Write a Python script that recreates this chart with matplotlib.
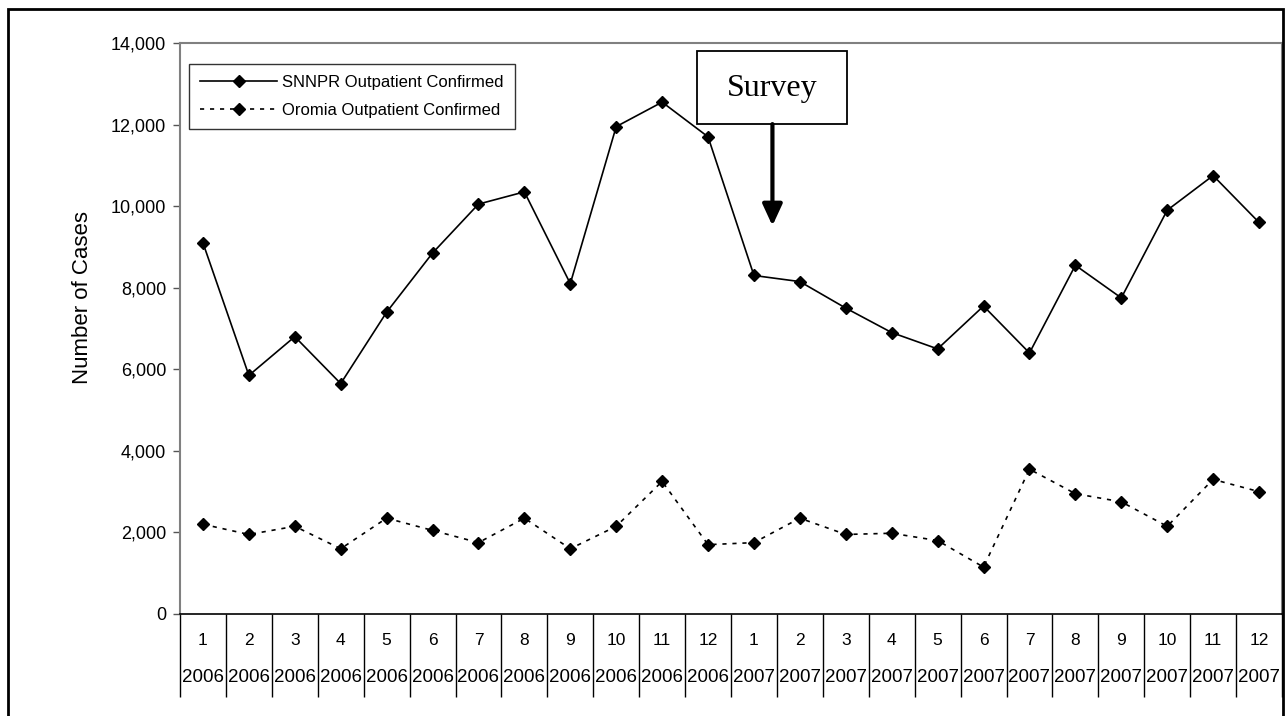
import numpy as np
import matplotlib.pyplot as plt
from matplotlib.patches import Rectangle
from matplotlib.ticker import FuncFormatter

# monthly confirmed outpatient cases, Jan 2006 - Dec 2007
months = [str(m) for m in range(1, 13)] * 2
years = ["2006"] * 12 + ["2007"] * 12
snnpr = [9100, 5850, 6800, 5650, 7400, 8850, 10050, 10350, 8100, 11950, 12550, 11700,
         8300, 8150, 7500, 6900, 6500, 7550, 6400, 8550, 7750, 9900, 10750, 9600]
oromia = [2200, 1950, 2150, 1600, 2350, 2050, 1750, 2350, 1600, 2150, 3250, 1700,
          1750, 2350, 1950, 1980, 1800, 1150, 3550, 2950, 2750, 2150, 3300, 3000]

plt.rcParams['font.family'] = ['Liberation Sans', 'DejaVu Sans']

W, H = 1286, 716
fig = plt.figure(figsize=(W / 100, H / 100), dpi=100)
ax = fig.add_axes([180 / W, 1 - 614 / H, (1282 - 180) / W, (614 - 43) / H])

x = np.arange(len(months))
ax.plot(x, snnpr, color='black', lw=1.2, marker='D', ms=6.5,
        label="SNNPR Outpatient Confirmed")
ax.plot(x, oromia, color='black', lw=1.2, ls=(0, (2.5, 3.5)), marker='D', ms=6.5,
        label="Oromia Outpatient Confirmed")

ax.set_xlim(-0.5, len(months) - 0.5)
ax.set_ylim(0, 14000)
ax.set_yticks(np.arange(0, 14001, 2000))
ax.yaxis.set_major_formatter(FuncFormatter(lambda v, p: f"{int(v):,}"))
ax.tick_params(axis='y', labelsize=13, length=5, width=1, color='#555555', pad=5)
ax.set_ylabel("Number of Cases", fontsize=16)
ax.yaxis.set_label_coords(-0.079, 0.555)

# category separators below the axis
ax.set_xticks(np.arange(-0.5, len(months), 1.0))
ax.tick_params(axis='x', which='major', length=60, width=1, color='black',
               labelbottom=False)
for i in x:
    ax.text(i, -0.046, months[i], transform=ax.get_xaxis_transform(),
            ha='center', va='center', fontsize=12.5)
    ax.text(i, -0.112, years[i], transform=ax.get_xaxis_transform(),
            ha='center', va='center', fontsize=13.5)

for side in ['left', 'top', 'right']:
    ax.spines[side].set_color('#808080')
    ax.spines[side].set_linewidth(1.5)
ax.spines['bottom'].set_color('black')
ax.spines['bottom'].set_linewidth(1.2)

leg = ax.legend(loc='upper left', bbox_to_anchor=(0.008, 0.964), fontsize=12,
                frameon=True, fancybox=False, edgecolor='black', handlelength=4.6,
                borderaxespad=0, borderpad=0.7, labelspacing=0.75, handletextpad=0.3)
leg.get_frame().set_linewidth(1.0)

# survey annotation
ax.add_patch(Rectangle((0.4696, 0.858), 0.136, 0.128, transform=ax.transAxes,
                       facecolor='white', edgecolor='black', lw=1.3, zorder=3))
ax.text(0.5376, 0.92, "Survey", transform=ax.transAxes, ha='center', va='center',
        fontsize=23, family=['Liberation Serif', 'DejaVu Serif'], zorder=4)
ax.annotate("", xy=(0.5376, 0.68), xytext=(0.5376, 0.858), xycoords='axes fraction',
            arrowprops=dict(arrowstyle='-|>,head_length=1.3,head_width=0.6',
                            color='black', lw=3, shrinkA=0, shrinkB=0))

# outer frame
fig.patches.append(Rectangle((8 / W, -0.05), (1283 - 8) / W, 1.05 - 9 / H,
                             transform=fig.transFigure, facecolor='none',
                             edgecolor='black', lw=2))

fig.savefig("out.png", dpi=100, facecolor='white')
